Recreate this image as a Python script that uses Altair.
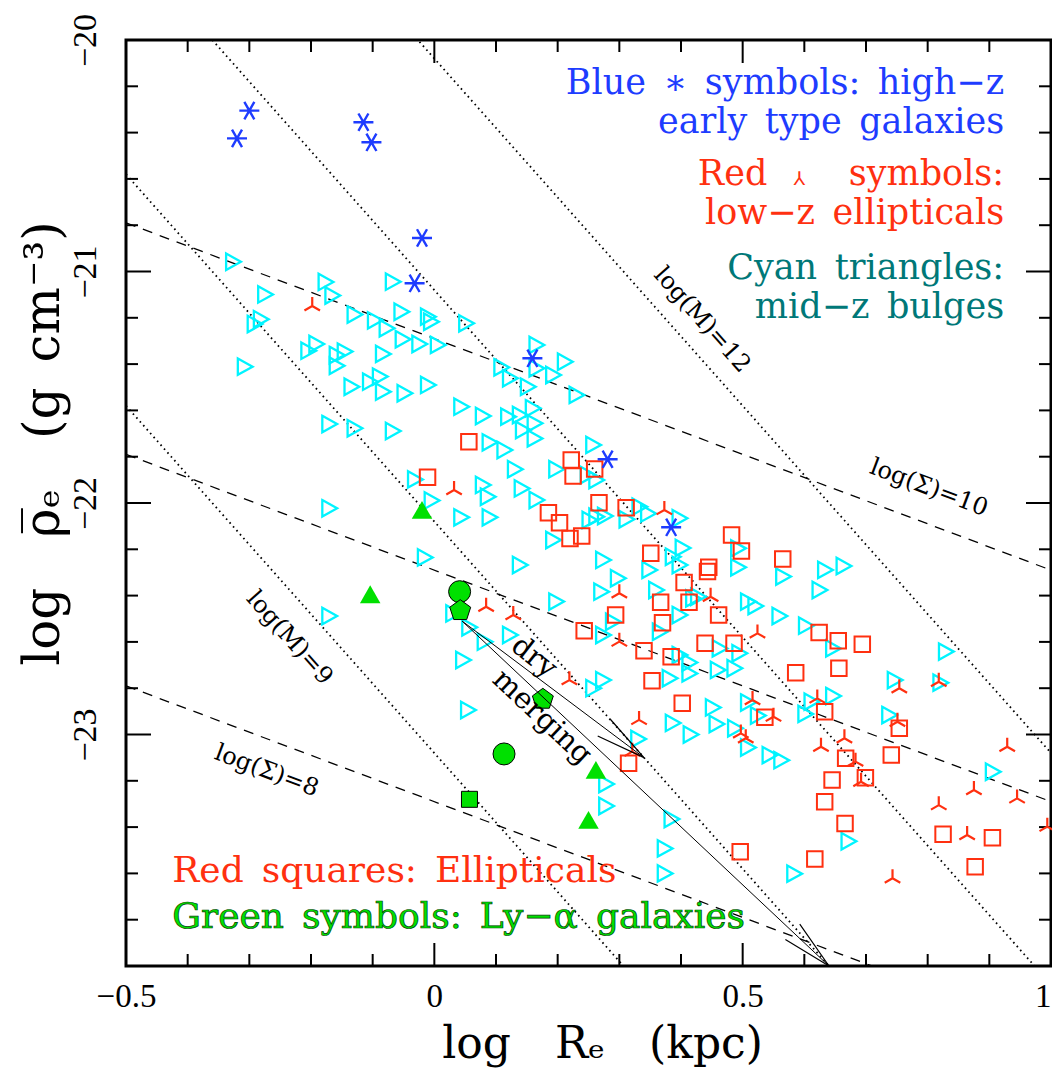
import math
import altair as alt
import pandas as pd

W = 925
H = 926
X0, X1 = -0.5, 1.0
Y0, Y1 = -24.0, -20.0

BLUE = "#1E3CFF"
RED = "#FF3010"
CYAN = "#00F4FF"
TEAL = "#007878"
GREEN = "#00E000"
SP = "\u2002"
EM = "\u2003"

# ---------------- data ----------------
blue_x = [-0.320, -0.300, -0.115, -0.102, -0.020, -0.032, 0.159, 0.281, 0.384]
blue_y = [-20.425, -20.305, -20.355, -20.442, -20.855, -21.051, -21.375, -21.811, -22.105]

redtri_x = [-0.198, 0.032, 0.373, 0.084, 0.128, 0.300, 0.300, 0.219, 0.332, 0.321,
            0.448, 0.524, 0.754, 0.818, 0.621, 0.516, 0.550, 0.751, 0.497, 0.505,
            0.665, 0.627, 0.683, 0.692, 0.929, 0.875, 0.818, 0.945, 0.864, 0.994, 0.743]
redtri_y = [-21.149, -21.944, -22.030, -22.448, -22.484, -22.390, -22.599, -22.765, -22.937, -23.074,
            -22.405, -22.563, -22.800, -22.772, -22.844, -22.851, -22.923, -22.945, -22.995, -23.016,
            -23.016, -23.053, -23.117, -23.204, -23.053, -23.240, -23.305, -23.276, -23.434, -23.398, -23.621]

redsq_x = [0.056, -0.011, 0.222, 0.260, 0.225, 0.267, 0.311, 0.185, 0.203, 0.220,
           0.239, 0.351, 0.405, 0.367, 0.413, 0.370, 0.294, 0.243, 0.340, 0.384,
           0.353, 0.402, 0.315, 0.482, 0.498, 0.565, 0.445, 0.443, 0.461, 0.439,
           0.486, 0.624, 0.655, 0.694, 0.586, 0.656, 0.536, 0.633, 0.754, 0.667,
           0.741, 0.645, 0.699, 0.633, 0.666, 0.825, 0.905, 0.877, 0.617, 0.496]
redsq_y = [-21.735, -21.889, -21.814, -21.853, -21.883, -21.999, -22.020, -22.042, -22.085, -22.153,
           -22.143, -22.217, -22.343, -22.429, -22.429, -22.517, -22.484, -22.552, -22.638, -22.664,
           -22.768, -22.865, -23.124, -22.138, -22.207, -22.242, -22.278, -22.296, -22.484, -22.606,
           -22.606, -22.559, -22.595, -22.610, -22.733, -22.714, -22.926, -22.902, -22.973, -23.103,
           -23.089, -23.197, -23.187, -23.290, -23.384, -23.431, -23.446, -23.571, -23.538, -23.506]

cyan_x = [-0.327, -0.275, -0.177, -0.166, -0.068, -0.282, -0.292, -0.130, -0.097, -0.078,
          -0.054, -0.011, -0.006, 0.005, -0.205, -0.192, -0.052, -0.025, -0.308, -0.159,
          -0.146, -0.159, -0.084, -0.135, -0.105, -0.089, -0.084, -0.049, -0.011, -0.171,
          -0.130, -0.068, -0.032, -0.005, -0.171, -0.016, -0.171,
          0.051, 0.165, 0.211, 0.108, 0.122, 0.165, 0.192, 0.151, 0.230, 0.043,
          0.078, 0.119, 0.138, 0.159, 0.162, 0.143, 0.162, 0.089, 0.113, 0.257,
          0.130, 0.197, 0.248, 0.262, 0.078, 0.086, 0.141, 0.165, 0.043, 0.089,
          0.192, 0.251, 0.262, 0.276, 0.311, 0.332, 0.346, 0.397, 0.402, 0.273,
          0.138, 0.297, 0.348, 0.386, 0.397, 0.270, 0.359, 0.419, 0.197, 0.030,
          0.056, 0.081, 0.122, 0.289, 0.273, 0.365, 0.397, 0.046, 0.257, 0.273,
          0.381, 0.413, 0.397, 0.413, 0.054, 0.386, 0.415, 0.330, 0.278, 0.278,
          0.384, 0.451, 0.457, 0.487, 0.508, 0.543, 0.562, 0.508, 0.524, 0.601,
          0.373, 0.373, 0.583, 0.671, 0.492, 0.492, 0.565, 0.633, 0.663, 0.624,
          0.427, 0.508, 0.520, 0.559, 0.602, 0.646, 0.462, 0.494, 0.459, 0.486,
          0.611, 0.646, 0.746, 0.737, 0.829, 0.820, 0.905]
cyan_y = [-20.958, -21.099, -21.045, -21.104, -21.044, -21.206, -21.227, -21.186, -21.211, -21.245,
          -21.174, -21.195, -21.217, -21.317, -21.342, -21.313, -21.293, -21.313, -21.411, -21.361,
          -21.346, -21.407, -21.356, -21.498, -21.476, -21.454, -21.519, -21.526, -21.490, -21.659,
          -21.677, -21.689, -21.898, -21.989, -22.023, -22.235, -22.488,
          -21.224, -21.317, -21.390, -21.414, -21.461, -21.418, -21.447, -21.498, -21.533, -21.584,
          -21.624, -21.627, -21.620, -21.591, -21.656, -21.685, -21.721, -21.738, -21.771, -21.749,
          -21.854, -21.854, -21.879, -21.901, -21.922, -21.973, -21.937, -21.987, -22.062, -22.062,
          -22.160, -22.073, -22.059, -22.056, -22.070, -22.016, -22.045, -22.066, -22.194, -22.246,
          -22.268, -22.325, -22.289, -22.232, -22.268, -22.383, -22.376, -22.412, -22.426, -22.477,
          -22.537, -22.599, -22.570, -22.513, -22.570, -22.556, -22.484, -22.678, -22.800, -22.765,
          -22.757, -22.736, -22.657, -22.689, -22.894, -22.950, -23.000, -23.019, -23.214, -23.309,
          -23.365, -22.883, -22.955, -22.973, -23.056, -23.089, -23.111, -22.862, -22.918, -22.911,
          -23.492, -23.600, -23.601, -23.461, -22.196, -22.278, -22.318, -22.289, -22.272, -22.376,
          -22.405, -22.426, -22.445, -22.488, -22.530, -22.628, -22.628, -22.649, -22.721, -22.714,
          -22.858, -22.834, -22.765, -22.916, -22.642, -22.776, -23.161]

gtri_x = [-0.104, -0.020, 0.262, 0.250]
gtri_y = [-22.394, -22.030, -23.153, -23.369]
gcirc_x = [0.041, 0.113]
gcirc_y = [-22.383, -23.084]
gpent_x = [0.042, 0.176]
gpent_y = [-22.465, -22.848]
gsq_x = [0.057]
gsq_y = [-23.280]

# model lines: log rho = log M - 3 log R + c  and  log rho = log Sigma - log R + c
mass_levels = [9, 10, 11, 12]
MASS_OFFSET = -32.08
sigma_levels = [8, 9, 10]
SIGMA_OFFSET = -31.29

# dry merging arrows
arrow_start = (0.045, -22.51)
arrow_end_x = [0.340, 0.640]
arrow_end_y = [-23.10, -24.00]

x_tick_major = [0.0, 0.5]
x_tick_minor = [-0.4, -0.3, -0.2, -0.1, 0.1, 0.2, 0.3, 0.4, 0.6, 0.7, 0.8, 0.9]
y_tick_major = [-23.0, -22.0, -21.0]
y_tick_minor = [-23.8, -23.6, -23.4, -23.2, -22.8, -22.6, -22.4, -22.2,
                -21.8, -21.6, -21.4, -21.2, -20.8, -20.6, -20.4, -20.2]

notes_top = [SP.join(["Blue", "\u2217", "symbols:", "high\u2212z"]),
             SP.join(["early", "type", "galaxies"]),
             SP.join(["low\u2212z", "ellipticals"]),
             SP.join(["Cyan", "triangles:"]),
             SP.join(["mid\u2212z", "bulges"])]
notes_top_color = [BLUE, BLUE, RED, TEAL, TEAL]
notes_top_y = [-20.235, -20.400, -20.795, -21.034, -21.200]
notes_top_x = 0.924

# "Red ⅄ symbols:" line, split so the symbol can be smaller
red_line_text = ["Red", "\u2144", "symbols:"]
red_line_x = [0.540, 0.592, 0.924]
red_line_y = -20.628

notes_bot = [SP.join(["Red", "squares:", "Ellipticals"]),
             SP.join(["Green", "symbols:", "Ly\u2212\u03b1", "galaxies"])]
notes_bot_y = [-23.637, -23.836]
notes_bot_x = -0.425

line_labels = ["log(M)=12", "log(\u03a3)=10", "log(M)=9", "log(\u03a3)=8"]
line_label_x = [0.434, 0.802, -0.235, -0.272]
line_label_y = [-21.210, -21.935, -22.583, -23.158]

# ---------------- helpers ----------------
xs = alt.Scale(domain=[X0, X1], nice=False, zero=False)
ys = alt.Scale(domain=[Y0, Y1], nice=False, zero=False)
PXX = W / (X1 - X0)
PXY = H / (Y1 - Y0)
SLOPE_M = math.degrees(math.atan(3 * PXY / PXX))
SLOPE_S = math.degrees(math.atan(PXY / PXX))

xaxis = alt.Axis(values=[-0.5, 0, 0.5, 1], format="~g", ticks=False, domain=False, grid=False,
                 labelFont="Liberation Serif", labelFontSize=33, labelColor="black",
                 labelPadding=14, labelFlush=False, labelOverlap=False,
                 labelBaseline="top",
                 labelAlign={"condition": {"test": "datum.value == 1", "value": "right"},
                             "value": "center"},
                 title=EM.join(["log", "R\u2091", "(kpc)"]), titleFont="DejaVu Serif",
                 titleFontSize=44, titleFontWeight="normal", titleColor="black",
                 titleBaseline="alphabetic", titleY=91, titleX=476, titleAlign="center")
yaxis = alt.Axis(values=[-23, -22, -21, -20], format="~g", ticks=False, domain=False, grid=False,
                 labelFont="Liberation Serif", labelFontSize=34, labelColor="black",
                 labelAngle=270, labelAlign="center", labelBaseline="bottom",
                 labelPadding=24, labelFlush=False, labelOverlap=False,
                 title=EM.join(["log", "\u03c1\u0305\u2091", "(g" + SP + "cm\u207b\u00b3)"]),
                 titleFont="DejaVu Serif",
                 titleFontSize=50, titleFontWeight="normal", titleColor="black",
                 titlePadding=0, titleY=403, titleAlign="center")

def XE():
    return alt.X("x:Q", scale=xs, axis=xaxis)

def YE():
    return alt.Y("y:Q", scale=ys, axis=yaxis)

def pts(xv, yv):
    return pd.DataFrame({"x": xv, "y": yv})

# model lines data
mrows, srows = [], []
for m in mass_levels:
    for xv in (X0, X1):
        mrows.append({"x": xv, "y": m + MASS_OFFSET - 3 * xv, "g": m})
for s in sigma_levels:
    for xv in (X0, X1):
        srows.append({"x": xv, "y": s + SIGMA_OFFSET - xv, "g": s})

dashed = alt.Chart(pd.DataFrame(srows)).mark_line(
    clip=True, color="black", strokeWidth=1.3, strokeDash=[10, 8]
).encode(x=XE(), y=YE(), detail="g:N")

dotted = alt.Chart(pd.DataFrame(mrows)).mark_line(
    clip=True, color="black", strokeWidth=1.8, strokeDash=[1.6, 3.6]
).encode(x=XE(), y=YE(), detail="g:N")

# ticks (inward)
def tick_layers():
    out = []
    for vals, ln in ((x_tick_major, 23), (x_tick_minor, 12)):
        d = pd.DataFrame({"x": vals})
        out.append(alt.Chart(d).mark_rule(color="black", strokeWidth=2).encode(
            x=XE(), y=alt.value(H), y2=alt.value(H - ln)))
        out.append(alt.Chart(d).mark_rule(color="black", strokeWidth=2).encode(
            x=XE(), y=alt.value(0), y2=alt.value(ln)))
    for vals, ln in ((y_tick_major, 25), (y_tick_minor, 12)):
        d = pd.DataFrame({"y": vals})
        out.append(alt.Chart(d).mark_rule(color="black", strokeWidth=2).encode(
            y=YE(), x=alt.value(0), x2=alt.value(ln)))
        out.append(alt.Chart(d).mark_rule(color="black", strokeWidth=2).encode(
            y=YE(), x=alt.value(W), x2=alt.value(W - ln)))
    return out

TRI_RIGHT = "M-0.8,-1L1,0L-0.8,1Z"
TRI_Y = "M0,0L0,-1M0,0L-0.87,0.5M0,0L0.87,0.5"
ASTER = "M-1,0L1,0M-0.5,-0.87L0.5,0.87M-0.5,0.87L0.5,-0.87"
PENT = "M0,-1L0.951,-0.309L0.588,0.809L-0.588,0.809L-0.951,-0.309Z"
TRI_UP = "M0,-0.87L1,0.87L-1,0.87Z"
HEAD = "M0,0L-1,-0.21M0,0L-1,0.21"

cyan = alt.Chart(pts(cyan_x, cyan_y)).mark_point(
    shape=TRI_RIGHT, size=270, filled=False, stroke=CYAN, strokeWidth=2.3, opacity=1
).encode(x=XE(), y=YE())
redsq = alt.Chart(pts(redsq_x, redsq_y)).mark_point(
    shape="square", size=240, filled=False, stroke=RED, strokeWidth=2, opacity=1
).encode(x=XE(), y=YE())
redtri = alt.Chart(pts(redtri_x, redtri_y)).mark_point(
    shape=TRI_Y, size=320, filled=False, stroke=RED, strokeWidth=2.2, opacity=1
).encode(x=XE(), y=YE())
blue = alt.Chart(pts(blue_x, blue_y)).mark_point(
    shape=ASTER, size=400, filled=False, stroke=BLUE, strokeWidth=2.4, opacity=1
).encode(x=XE(), y=YE())

gtri = alt.Chart(pts(gtri_x, gtri_y)).mark_point(
    shape=TRI_UP, size=420, filled=True, fill=GREEN, strokeWidth=0, opacity=1
).encode(x=XE(), y=YE())
gcirc = alt.Chart(pts(gcirc_x, gcirc_y)).mark_point(
    shape="circle", size=484, filled=True, fill=GREEN, stroke="black", strokeWidth=1, opacity=1
).encode(x=XE(), y=YE())
gpent = alt.Chart(pts(gpent_x, gpent_y)).mark_point(
    shape=PENT, size=484, filled=True, fill=GREEN, stroke="black", strokeWidth=1, opacity=1
).encode(x=XE(), y=YE())
gsq = alt.Chart(pts(gsq_x, gsq_y)).mark_point(
    shape="square", size=256, filled=True, fill=GREEN, stroke="black", strokeWidth=1, opacity=1
).encode(x=XE(), y=YE())

# arrows
arrow_layers = []
for ex, ey in zip(arrow_end_x, arrow_end_y):
    d = pd.DataFrame({"x": [arrow_start[0], ex], "y": [arrow_start[1], ey]})
    arrow_layers.append(alt.Chart(d).mark_line(color="black", strokeWidth=1).encode(
        x=XE(), y=YE()))
    ang = math.degrees(math.atan2((arrow_start[1] - ey) * PXY, (ex - arrow_start[0]) * PXX))
    arrow_layers.append(alt.Chart(pd.DataFrame({"x": [ex], "y": [ey]})).mark_point(
        shape=HEAD, size=10000, filled=False, stroke="black", strokeWidth=1.2,
        angle=ang, opacity=1).encode(x=XE(), y=YE()))

# texts
top_df = pd.DataFrame({"x": [notes_top_x] * len(notes_top), "y": notes_top_y,
                       "t": notes_top, "c": notes_top_color})
top_text = alt.Chart(top_df).mark_text(
    align="right", baseline="alphabetic", font="DejaVu Serif", fontSize=35
).encode(x=XE(), y=YE(), text="t:N", color=alt.Color("c:N", scale=None))

red_line_layers = []
for t, lx, al, fs in zip(red_line_text, red_line_x, ["right", "center", "right"], [35, 19, 35]):
    red_line_layers.append(alt.Chart(pd.DataFrame({"x": [lx], "y": [red_line_y], "t": [t]})).mark_text(
        align=al, baseline="alphabetic", font="DejaVu Serif", fontSize=fs, color=RED
    ).encode(x=XE(), y=YE(), text="t:N"))

bot_red = alt.Chart(pd.DataFrame({"x": [notes_bot_x], "y": [notes_bot_y[0]], "t": [notes_bot[0]]})).mark_text(
    align="left", baseline="alphabetic", font="DejaVu Serif", fontSize=36, color=RED
).encode(x=XE(), y=YE(), text="t:N")
bot_green = alt.Chart(pd.DataFrame({"x": [notes_bot_x], "y": [notes_bot_y[1]], "t": [notes_bot[1]]})).mark_text(
    align="left", baseline="alphabetic", font="DejaVu Serif", fontSize=36, fill=GREEN,
    stroke="#004000", strokeWidth=0.7
).encode(x=XE(), y=YE(), text="t:N")

label_layers = []
for t, lx, ly in zip(line_labels, line_label_x, line_label_y):
    ang = SLOPE_M if "M" in t else SLOPE_S
    label_layers.append(alt.Chart(pd.DataFrame({"x": [lx], "y": [ly], "t": [t]})).mark_text(
        align="center", baseline="middle", font="DejaVu Serif", fontSize=24, color="black",
        angle=ang).encode(x=XE(), y=YE(), text="t:N"))

merge_words = ["dry", "merging"]
merge_x = [0.162, 0.175]
merge_y = [-22.665, -22.924]
merge_ang = [38, 43]
for t, lx, ly, a in zip(merge_words, merge_x, merge_y, merge_ang):
    label_layers.append(alt.Chart(pd.DataFrame({"x": [lx], "y": [ly], "t": [t]})).mark_text(
        align="center", baseline="middle", font="DejaVu Serif", fontSize=29, color="black",
        angle=a).encode(x=XE(), y=YE(), text="t:N"))

layers = ([dashed, dotted] + tick_layers() + [cyan, redsq, redtri, blue,
          gtri, gcirc, gpent, gsq] + arrow_layers + [top_text] + red_line_layers
          + [bot_red, bot_green] + label_layers)

chart = alt.layer(*layers).properties(
    width=W, height=H,
    autosize=alt.AutoSizeParams(type="none"),
    padding={"left": 118, "top": 32, "right": 1, "bottom": 102},
    background="white",
).configure_view(stroke="black", strokeWidth=3)

chart.save("out.html", embed_options={"renderer": "svg", "actions": False})
